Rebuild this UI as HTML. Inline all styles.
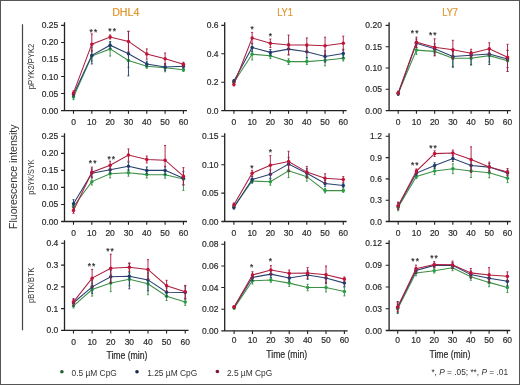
<!DOCTYPE html>
<html><head><meta charset="utf-8"><style>
html,body{margin:0;padding:0;background:#fff;}
body{width:520px;height:385px;overflow:hidden;position:relative;}
svg{position:absolute;left:0;top:0;will-change:transform;}
text{font-family:"Liberation Sans",sans-serif;}
.tk text{font-size:8.5px;fill:#2a2a2a;stroke:#2a2a2a;stroke-width:0.18px;}
.st{font-size:7.6px;fill:#111;stroke:#111;stroke-width:0.35px;letter-spacing:1.1px;}
</style></head><body>
<svg width="520" height="385" viewBox="0 0 520 385">
<rect x="0.5" y="0.5" width="519" height="384" fill="#fff" stroke="#555" stroke-width="1"/>

<g font-size="10" fill="#e0962c" stroke="#e0962c" stroke-width="0.2" text-anchor="middle"><text x="125.75" y="15.5" textLength="27.2" lengthAdjust="spacingAndGlyphs">DHL4</text><text x="285" y="15.5" textLength="15.6" lengthAdjust="spacingAndGlyphs">LY1</text><text x="450.1" y="15.5" textLength="15.8" lengthAdjust="spacingAndGlyphs">LY7</text></g>
<path d="M22.5 24.2V330.2" stroke="#444" stroke-width="1.2"/>
<text transform="translate(16.5 176.7) rotate(-90)" text-anchor="middle" font-size="10.1" fill="#333" textLength="104.5" lengthAdjust="spacingAndGlyphs">Fluorescence intensity</text>
<text transform="translate(34.0 66.45) rotate(-90)" text-anchor="middle" font-size="9.4" fill="#333" textLength="45.4" lengthAdjust="spacingAndGlyphs">pPYK2/PYK2</text>
<text transform="translate(34.0 177.0) rotate(-90)" text-anchor="middle" font-size="9.4" fill="#333" textLength="35.4" lengthAdjust="spacingAndGlyphs">pSYK/SYK</text>
<text transform="translate(34.0 285.25) rotate(-90)" text-anchor="middle" font-size="9.4" fill="#333" textLength="35.4" lengthAdjust="spacingAndGlyphs">pBTK/BTK</text>
<g class="tk">
<path d="M64.50 22.30V110.60M61.10 110.60H187.00" stroke="#222" stroke-width="1.3" fill="none"/>
<text x="58.30" y="113.60" text-anchor="end">0.00</text>
<text x="58.30" y="96.56" text-anchor="end">0.05</text>
<text x="58.30" y="79.52" text-anchor="end">0.10</text>
<text x="58.30" y="62.48" text-anchor="end">0.15</text>
<text x="58.30" y="45.44" text-anchor="end">0.20</text>
<text x="58.30" y="28.40" text-anchor="end">0.25</text>
<text x="73.50" y="124.60" text-anchor="middle">0</text>
<text x="91.82" y="124.60" text-anchor="middle">10</text>
<text x="110.14" y="124.60" text-anchor="middle">20</text>
<text x="128.46" y="124.60" text-anchor="middle">30</text>
<text x="146.78" y="124.60" text-anchor="middle">40</text>
<text x="165.10" y="124.60" text-anchor="middle">50</text>
<text x="183.42" y="124.60" text-anchor="middle">60</text>
<path d="M61.10 93.56H64.50M61.10 76.52H64.50M61.10 59.48H64.50M61.10 42.44H64.50M61.10 25.40H64.50M73.50 110.60V113.80M91.82 110.60V113.80M110.14 110.60V113.80M128.46 110.60V113.80M146.78 110.60V113.80M165.10 110.60V113.80M183.42 110.60V113.80" stroke="#222" stroke-width="1.1" fill="none"/>
<path d="M73.50 94.24V99.69M72.50 94.24h2M72.50 99.69h2M91.82 50.96V61.18M90.82 50.96h2M90.82 61.18h2M110.14 41.76V56.07M109.14 41.76h2M109.14 56.07h2M128.46 53.69V67.32M127.46 53.69h2M127.46 67.32h2M146.78 64.25V68.34M145.78 64.25h2M145.78 68.34h2M165.10 63.57V71.75M164.10 63.57h2M164.10 71.75h2M183.42 68.00V71.41M182.42 68.00h2M182.42 71.41h2" stroke="#3d8f45" stroke-width="0.95" fill="none"/>
<polyline points="73.50,96.97 91.82,56.07 110.14,48.92 128.46,60.50 146.78,66.30 165.10,67.66 183.42,69.70" stroke="#3d8f45" stroke-width="1.05" fill="none"/>
<circle cx="73.50" cy="96.97" r="1.75" fill="#26a043"/>
<circle cx="91.82" cy="56.07" r="1.75" fill="#26a043"/>
<circle cx="110.14" cy="48.92" r="1.75" fill="#26a043"/>
<circle cx="128.46" cy="60.50" r="1.75" fill="#26a043"/>
<circle cx="146.78" cy="66.30" r="1.75" fill="#26a043"/>
<circle cx="165.10" cy="67.66" r="1.75" fill="#26a043"/>
<circle cx="183.42" cy="69.70" r="1.75" fill="#26a043"/>
<path d="M73.50 92.54V96.63M72.50 92.54h2M72.50 96.63h2M91.82 46.87V63.91M90.82 46.87h2M90.82 63.91h2M110.14 41.76V48.57M109.14 41.76h2M109.14 48.57h2M128.46 31.53V75.84M127.46 31.53h2M127.46 75.84h2M146.78 61.18V66.64M145.78 61.18h2M145.78 66.64h2M165.10 63.57V70.39M164.10 63.57h2M164.10 70.39h2M183.42 64.59V68.00M182.42 64.59h2M182.42 68.00h2" stroke="#27406f" stroke-width="0.95" fill="none"/>
<polyline points="73.50,94.58 91.82,55.39 110.14,45.17 128.46,53.69 146.78,63.91 165.10,66.98 183.42,66.30" stroke="#27406f" stroke-width="1.05" fill="none"/>
<circle cx="73.50" cy="94.58" r="1.75" fill="#223a6c"/>
<circle cx="91.82" cy="55.39" r="1.75" fill="#223a6c"/>
<circle cx="110.14" cy="45.17" r="1.75" fill="#223a6c"/>
<circle cx="128.46" cy="53.69" r="1.75" fill="#223a6c"/>
<circle cx="146.78" cy="63.91" r="1.75" fill="#223a6c"/>
<circle cx="165.10" cy="66.98" r="1.75" fill="#223a6c"/>
<circle cx="183.42" cy="66.30" r="1.75" fill="#223a6c"/>
<path d="M73.50 90.83V94.92M72.50 90.83h2M72.50 94.92h2M91.82 33.92V50.96M90.82 33.92h2M90.82 50.96h2M110.14 34.94V39.03M109.14 34.94h2M109.14 39.03h2M128.46 31.19V51.64M127.46 31.19h2M127.46 51.64h2M146.78 48.92V59.14M145.78 48.92h2M145.78 59.14h2M165.10 53.00V64.59M164.10 53.00h2M164.10 64.59h2M183.42 62.21V66.30M182.42 62.21h2M182.42 66.30h2" stroke="#ab1f40" stroke-width="0.95" fill="none"/>
<polyline points="73.50,92.88 91.82,44.14 110.14,36.99 128.46,41.42 146.78,54.03 165.10,58.80 183.42,64.25" stroke="#ab1f40" stroke-width="1.05" fill="none"/>
<circle cx="73.50" cy="92.88" r="1.75" fill="#c41236"/>
<circle cx="91.82" cy="44.14" r="1.75" fill="#c41236"/>
<circle cx="110.14" cy="36.99" r="1.75" fill="#c41236"/>
<circle cx="128.46" cy="41.42" r="1.75" fill="#c41236"/>
<circle cx="146.78" cy="54.03" r="1.75" fill="#c41236"/>
<circle cx="165.10" cy="58.80" r="1.75" fill="#c41236"/>
<circle cx="183.42" cy="64.25" r="1.75" fill="#c41236"/>
<text class="st" x="93.95" y="34.50" text-anchor="middle">**</text>
<text class="st" x="112.65" y="34.00" text-anchor="middle">**</text>
<path d="M224.70 22.30V110.60M221.30 110.60H346.60" stroke="#222" stroke-width="1.3" fill="none"/>
<text x="218.50" y="113.60" text-anchor="end">0.0</text>
<text x="218.50" y="85.20" text-anchor="end">0.2</text>
<text x="218.50" y="56.80" text-anchor="end">0.4</text>
<text x="218.50" y="28.40" text-anchor="end">0.6</text>
<text x="233.90" y="124.60" text-anchor="middle">0</text>
<text x="252.13" y="124.60" text-anchor="middle">10</text>
<text x="270.36" y="124.60" text-anchor="middle">20</text>
<text x="288.59" y="124.60" text-anchor="middle">30</text>
<text x="306.82" y="124.60" text-anchor="middle">40</text>
<text x="325.05" y="124.60" text-anchor="middle">50</text>
<text x="343.28" y="124.60" text-anchor="middle">60</text>
<path d="M221.30 82.20H224.70M221.30 53.80H224.70M221.30 25.40H224.70M233.90 110.60V113.80M252.13 110.60V113.80M270.36 110.60V113.80M288.59 110.60V113.80M306.82 110.60V113.80M325.05 110.60V113.80M343.28 110.60V113.80" stroke="#222" stroke-width="1.1" fill="none"/>
<path d="M233.90 80.78V83.62M232.90 80.78h2M232.90 83.62h2M252.13 48.55V59.91M251.13 48.55h2M251.13 59.91h2M270.36 52.95V58.63M269.36 52.95h2M269.36 58.63h2M288.59 58.77V64.45M287.59 58.77h2M287.59 64.45h2M306.82 58.77V64.45M305.82 58.77h2M305.82 64.45h2M325.05 54.51V65.87M324.05 54.51h2M324.05 65.87h2M343.28 55.36V61.04M342.28 55.36h2M342.28 61.04h2" stroke="#3d8f45" stroke-width="0.95" fill="none"/>
<polyline points="233.90,82.20 252.13,54.23 270.36,55.79 288.59,61.61 306.82,61.61 325.05,60.19 343.28,58.20" stroke="#3d8f45" stroke-width="1.05" fill="none"/>
<circle cx="233.90" cy="82.20" r="1.75" fill="#26a043"/>
<circle cx="252.13" cy="54.23" r="1.75" fill="#26a043"/>
<circle cx="270.36" cy="55.79" r="1.75" fill="#26a043"/>
<circle cx="288.59" cy="61.61" r="1.75" fill="#26a043"/>
<circle cx="306.82" cy="61.61" r="1.75" fill="#26a043"/>
<circle cx="325.05" cy="60.19" r="1.75" fill="#26a043"/>
<circle cx="343.28" cy="58.20" r="1.75" fill="#26a043"/>
<path d="M233.90 79.64V82.48M232.90 79.64h2M232.90 82.48h2M252.13 43.15V51.67M251.13 43.15h2M251.13 51.67h2M270.36 49.54V55.22M269.36 49.54h2M269.36 55.22h2M288.59 43.43V54.79M287.59 43.43h2M287.59 54.79h2M306.82 46.13V57.49M305.82 46.13h2M305.82 57.49h2M325.05 50.82V62.18M324.05 50.82h2M324.05 62.18h2M343.28 49.26V57.78M342.28 49.26h2M342.28 57.78h2" stroke="#27406f" stroke-width="0.95" fill="none"/>
<polyline points="233.90,81.06 252.13,47.41 270.36,52.38 288.59,49.11 306.82,51.81 325.05,56.50 343.28,53.52" stroke="#27406f" stroke-width="1.05" fill="none"/>
<circle cx="233.90" cy="81.06" r="1.75" fill="#223a6c"/>
<circle cx="252.13" cy="47.41" r="1.75" fill="#223a6c"/>
<circle cx="270.36" cy="52.38" r="1.75" fill="#223a6c"/>
<circle cx="288.59" cy="49.11" r="1.75" fill="#223a6c"/>
<circle cx="306.82" cy="51.81" r="1.75" fill="#223a6c"/>
<circle cx="325.05" cy="56.50" r="1.75" fill="#223a6c"/>
<circle cx="343.28" cy="53.52" r="1.75" fill="#223a6c"/>
<path d="M233.90 83.05V85.89M232.90 83.05h2M232.90 85.89h2M252.13 32.36V43.72M251.13 32.36h2M251.13 43.72h2M270.36 39.03V47.55M269.36 39.03h2M269.36 47.55h2M288.59 35.06V54.94M287.59 35.06h2M287.59 54.94h2M306.82 37.90V52.10M305.82 37.90h2M305.82 52.10h2M325.05 37.19V54.23M324.05 37.19h2M324.05 54.23h2M343.28 36.19V50.39M342.28 36.19h2M342.28 50.39h2" stroke="#ab1f40" stroke-width="0.95" fill="none"/>
<polyline points="233.90,84.47 252.13,38.04 270.36,43.29 288.59,45.00 306.82,45.00 325.05,45.71 343.28,43.29" stroke="#ab1f40" stroke-width="1.05" fill="none"/>
<circle cx="233.90" cy="84.47" r="1.75" fill="#c41236"/>
<circle cx="252.13" cy="38.04" r="1.75" fill="#c41236"/>
<circle cx="270.36" cy="43.29" r="1.75" fill="#c41236"/>
<circle cx="288.59" cy="45.00" r="1.75" fill="#c41236"/>
<circle cx="306.82" cy="45.00" r="1.75" fill="#c41236"/>
<circle cx="325.05" cy="45.71" r="1.75" fill="#c41236"/>
<circle cx="343.28" cy="43.29" r="1.75" fill="#c41236"/>
<text class="st" x="252.70" y="31.70" text-anchor="middle">*</text>
<text class="st" x="270.90" y="39.40" text-anchor="middle">*</text>
<path d="M389.10 22.30V110.60M385.70 110.60H510.80" stroke="#222" stroke-width="1.3" fill="none"/>
<text x="381.90" y="113.60" text-anchor="end">0.00</text>
<text x="381.90" y="92.30" text-anchor="end">0.05</text>
<text x="381.90" y="71.00" text-anchor="end">0.10</text>
<text x="381.90" y="49.70" text-anchor="end">0.15</text>
<text x="381.90" y="28.40" text-anchor="end">0.20</text>
<text x="398.20" y="124.60" text-anchor="middle">0</text>
<text x="416.42" y="124.60" text-anchor="middle">10</text>
<text x="434.64" y="124.60" text-anchor="middle">20</text>
<text x="452.86" y="124.60" text-anchor="middle">30</text>
<text x="471.08" y="124.60" text-anchor="middle">40</text>
<text x="489.30" y="124.60" text-anchor="middle">50</text>
<text x="507.52" y="124.60" text-anchor="middle">60</text>
<path d="M385.70 89.30H389.10M385.70 68.00H389.10M385.70 46.70H389.10M385.70 25.40H389.10M398.20 110.60V113.80M416.42 110.60V113.80M434.64 110.60V113.80M452.86 110.60V113.80M471.08 110.60V113.80M489.30 110.60V113.80M507.52 110.60V113.80" stroke="#222" stroke-width="1.1" fill="none"/>
<path d="M398.20 91.86V95.26M397.20 91.86h2M397.20 95.26h2M416.42 45.85V54.37M415.42 45.85h2M415.42 54.37h2M434.64 47.13V55.65M433.64 47.13h2M433.64 55.65h2M452.86 49.38V67.02M451.86 49.38h2M451.86 67.02h2M471.08 51.60V64.81M470.08 51.60h2M470.08 64.81h2M489.30 49.26V62.04M488.30 49.26h2M488.30 62.04h2M507.52 50.11V71.41M506.52 50.11h2M506.52 71.41h2" stroke="#3d8f45" stroke-width="0.95" fill="none"/>
<polyline points="398.20,93.56 416.42,50.11 434.64,51.39 452.86,58.20 471.08,58.20 489.30,55.65 507.52,60.76" stroke="#3d8f45" stroke-width="1.05" fill="none"/>
<circle cx="398.20" cy="93.56" r="1.75" fill="#26a043"/>
<circle cx="416.42" cy="50.11" r="1.75" fill="#26a043"/>
<circle cx="434.64" cy="51.39" r="1.75" fill="#26a043"/>
<circle cx="452.86" cy="58.20" r="1.75" fill="#26a043"/>
<circle cx="471.08" cy="58.20" r="1.75" fill="#26a043"/>
<circle cx="489.30" cy="55.65" r="1.75" fill="#26a043"/>
<circle cx="507.52" cy="60.76" r="1.75" fill="#26a043"/>
<path d="M398.20 91.86V95.26M397.20 91.86h2M397.20 95.26h2M416.42 39.03V47.55M415.42 39.03h2M415.42 47.55h2M434.64 43.72V53.94M433.64 43.72h2M433.64 53.94h2M452.86 51.39V67.02M451.86 51.39h2M451.86 67.02h2M471.08 51.81V64.85M470.08 51.81h2M470.08 64.85h2M489.30 49.68V64.46M488.30 49.68h2M488.30 64.46h2M507.52 50.53V67.57M506.52 50.53h2M506.52 67.57h2" stroke="#27406f" stroke-width="0.95" fill="none"/>
<polyline points="398.20,93.56 416.42,43.29 434.64,48.83 452.86,56.50 471.08,55.22 489.30,53.94 507.52,59.05" stroke="#27406f" stroke-width="1.05" fill="none"/>
<circle cx="398.20" cy="93.56" r="1.75" fill="#223a6c"/>
<circle cx="416.42" cy="43.29" r="1.75" fill="#223a6c"/>
<circle cx="434.64" cy="48.83" r="1.75" fill="#223a6c"/>
<circle cx="452.86" cy="56.50" r="1.75" fill="#223a6c"/>
<circle cx="471.08" cy="55.22" r="1.75" fill="#223a6c"/>
<circle cx="489.30" cy="53.94" r="1.75" fill="#223a6c"/>
<circle cx="507.52" cy="59.05" r="1.75" fill="#223a6c"/>
<path d="M398.20 91.17V94.58M397.20 91.17h2M397.20 94.58h2M416.42 37.12V47.34M415.42 37.12h2M415.42 47.34h2M434.64 38.78V55.82M433.64 38.78h2M433.64 55.82h2M452.86 40.31V59.05M451.86 40.31h2M451.86 59.05h2M471.08 49.26V57.26M470.08 49.26h2M470.08 57.26h2M489.30 42.74V54.92M488.30 42.74h2M488.30 54.92h2M507.52 44.31V71.41M506.52 44.31h2M506.52 71.41h2" stroke="#ab1f40" stroke-width="0.95" fill="none"/>
<polyline points="398.20,92.88 416.42,42.23 434.64,47.30 452.86,49.68 471.08,53.26 489.30,48.83 507.52,57.35" stroke="#ab1f40" stroke-width="1.05" fill="none"/>
<circle cx="398.20" cy="92.88" r="1.75" fill="#c41236"/>
<circle cx="416.42" cy="42.23" r="1.75" fill="#c41236"/>
<circle cx="434.64" cy="47.30" r="1.75" fill="#c41236"/>
<circle cx="452.86" cy="49.68" r="1.75" fill="#c41236"/>
<circle cx="471.08" cy="53.26" r="1.75" fill="#c41236"/>
<circle cx="489.30" cy="48.83" r="1.75" fill="#c41236"/>
<circle cx="507.52" cy="57.35" r="1.75" fill="#c41236"/>
<text class="st" x="415.25" y="36.00" text-anchor="middle">**</text>
<text class="st" x="433.35" y="38.40" text-anchor="middle">**</text>
<path d="M64.50 133.20V221.50M61.10 221.50H187.00" stroke="#222" stroke-width="1.3" fill="none"/>
<text x="58.30" y="224.50" text-anchor="end">0.00</text>
<text x="58.30" y="207.46" text-anchor="end">0.05</text>
<text x="58.30" y="190.42" text-anchor="end">0.10</text>
<text x="58.30" y="173.38" text-anchor="end">0.15</text>
<text x="58.30" y="156.34" text-anchor="end">0.20</text>
<text x="58.30" y="139.30" text-anchor="end">0.25</text>
<text x="73.50" y="235.50" text-anchor="middle">0</text>
<text x="91.82" y="235.50" text-anchor="middle">10</text>
<text x="110.14" y="235.50" text-anchor="middle">20</text>
<text x="128.46" y="235.50" text-anchor="middle">30</text>
<text x="146.78" y="235.50" text-anchor="middle">40</text>
<text x="165.10" y="235.50" text-anchor="middle">50</text>
<text x="183.42" y="235.50" text-anchor="middle">60</text>
<path d="M61.10 204.46H64.50M61.10 187.42H64.50M61.10 170.38H64.50M61.10 153.34H64.50M61.10 136.30H64.50M73.50 221.50V224.70M91.82 221.50V224.70M110.14 221.50V224.70M128.46 221.50V224.70M146.78 221.50V224.70M165.10 221.50V224.70M183.42 221.50V224.70" stroke="#222" stroke-width="1.1" fill="none"/>
<path d="M73.50 203.78V209.23M72.50 203.78h2M72.50 209.23h2M91.82 178.22V185.03M90.82 178.22h2M90.82 185.03h2M110.14 169.70V177.88M109.14 169.70h2M109.14 177.88h2M128.46 169.36V176.17M127.46 169.36h2M127.46 176.17h2M146.78 171.20V178.01M145.78 171.20h2M145.78 178.01h2M165.10 171.40V178.22M164.10 171.40h2M164.10 178.22h2M183.42 175.49V190.49M182.42 175.49h2M182.42 190.49h2" stroke="#3d8f45" stroke-width="0.95" fill="none"/>
<polyline points="73.50,206.50 91.82,181.63 110.14,173.79 128.46,172.77 146.78,174.61 165.10,174.81 183.42,178.90" stroke="#3d8f45" stroke-width="1.05" fill="none"/>
<circle cx="73.50" cy="206.50" r="1.75" fill="#26a043"/>
<circle cx="91.82" cy="181.63" r="1.75" fill="#26a043"/>
<circle cx="110.14" cy="173.79" r="1.75" fill="#26a043"/>
<circle cx="128.46" cy="172.77" r="1.75" fill="#26a043"/>
<circle cx="146.78" cy="174.61" r="1.75" fill="#26a043"/>
<circle cx="165.10" cy="174.81" r="1.75" fill="#26a043"/>
<circle cx="183.42" cy="178.90" r="1.75" fill="#26a043"/>
<path d="M73.50 199.69V207.87M72.50 199.69h2M72.50 207.87h2M91.82 169.02V177.20M90.82 169.02h2M90.82 177.20h2M110.14 166.29V173.11M109.14 166.29h2M109.14 173.11h2M128.46 162.20V170.38M127.46 162.20h2M127.46 170.38h2M146.78 166.97V173.79M145.78 166.97h2M145.78 173.79h2M165.10 166.29V174.47M164.10 166.29h2M164.10 174.47h2M183.42 171.40V185.03M182.42 171.40h2M182.42 185.03h2" stroke="#27406f" stroke-width="0.95" fill="none"/>
<polyline points="73.50,203.78 91.82,173.11 110.14,169.70 128.46,166.29 146.78,170.38 165.10,170.38 183.42,178.22" stroke="#27406f" stroke-width="1.05" fill="none"/>
<circle cx="73.50" cy="203.78" r="1.75" fill="#223a6c"/>
<circle cx="91.82" cy="173.11" r="1.75" fill="#223a6c"/>
<circle cx="110.14" cy="169.70" r="1.75" fill="#223a6c"/>
<circle cx="128.46" cy="166.29" r="1.75" fill="#223a6c"/>
<circle cx="146.78" cy="170.38" r="1.75" fill="#223a6c"/>
<circle cx="165.10" cy="170.38" r="1.75" fill="#223a6c"/>
<circle cx="183.42" cy="178.22" r="1.75" fill="#223a6c"/>
<path d="M73.50 207.87V213.32M72.50 207.87h2M72.50 213.32h2M91.82 167.07V177.30M90.82 167.07h2M90.82 177.30h2M110.14 161.18V169.36M109.14 161.18h2M109.14 169.36h2M128.46 148.91V161.18M127.46 148.91h2M127.46 161.18h2M146.78 156.07V162.88M145.78 156.07h2M145.78 162.88h2M165.10 145.50V166.97M164.10 145.50h2M164.10 166.97h2M183.42 167.65V184.69M182.42 167.65h2M182.42 184.69h2" stroke="#ab1f40" stroke-width="0.95" fill="none"/>
<polyline points="73.50,210.59 91.82,172.19 110.14,165.27 128.46,155.04 146.78,159.47 165.10,160.16 183.42,176.17" stroke="#ab1f40" stroke-width="1.05" fill="none"/>
<circle cx="73.50" cy="210.59" r="1.75" fill="#c41236"/>
<circle cx="91.82" cy="172.19" r="1.75" fill="#c41236"/>
<circle cx="110.14" cy="165.27" r="1.75" fill="#c41236"/>
<circle cx="128.46" cy="155.04" r="1.75" fill="#c41236"/>
<circle cx="146.78" cy="159.47" r="1.75" fill="#c41236"/>
<circle cx="165.10" cy="160.16" r="1.75" fill="#c41236"/>
<circle cx="183.42" cy="176.17" r="1.75" fill="#c41236"/>
<text class="st" x="93.20" y="166.30" text-anchor="middle">**</text>
<text class="st" x="111.80" y="161.90" text-anchor="middle">**</text>
<path d="M224.70 133.20V221.50M221.30 221.50H346.60" stroke="#222" stroke-width="1.3" fill="none"/>
<text x="218.50" y="224.50" text-anchor="end">0.00</text>
<text x="218.50" y="196.10" text-anchor="end">0.05</text>
<text x="218.50" y="167.70" text-anchor="end">0.10</text>
<text x="218.50" y="139.30" text-anchor="end">0.15</text>
<text x="233.90" y="235.50" text-anchor="middle">0</text>
<text x="252.13" y="235.50" text-anchor="middle">10</text>
<text x="270.36" y="235.50" text-anchor="middle">20</text>
<text x="288.59" y="235.50" text-anchor="middle">30</text>
<text x="306.82" y="235.50" text-anchor="middle">40</text>
<text x="325.05" y="235.50" text-anchor="middle">50</text>
<text x="343.28" y="235.50" text-anchor="middle">60</text>
<path d="M221.30 193.10H224.70M221.30 164.70H224.70M221.30 136.30H224.70M233.90 221.50V224.70M252.13 221.50V224.70M270.36 221.50V224.70M288.59 221.50V224.70M306.82 221.50V224.70M325.05 221.50V224.70M343.28 221.50V224.70" stroke="#222" stroke-width="1.1" fill="none"/>
<path d="M233.90 205.03V208.44M232.90 205.03h2M232.90 208.44h2M252.13 178.79V183.33M251.13 178.79h2M251.13 183.33h2M270.36 178.33V185.15M269.36 178.33h2M269.36 185.15h2M288.59 163.96V177.59M287.59 163.96h2M287.59 177.59h2M306.82 172.08V181.17M305.82 172.08h2M305.82 181.17h2M325.05 188.33V192.87M324.05 188.33h2M324.05 192.87h2M343.28 188.90V192.30M342.28 188.90h2M342.28 192.30h2" stroke="#3d8f45" stroke-width="0.95" fill="none"/>
<polyline points="233.90,206.73 252.13,181.06 270.36,181.74 288.59,170.78 306.82,176.63 325.05,190.60 343.28,190.60" stroke="#3d8f45" stroke-width="1.05" fill="none"/>
<circle cx="233.90" cy="206.73" r="1.75" fill="#26a043"/>
<circle cx="252.13" cy="181.06" r="1.75" fill="#26a043"/>
<circle cx="270.36" cy="181.74" r="1.75" fill="#26a043"/>
<circle cx="288.59" cy="170.78" r="1.75" fill="#26a043"/>
<circle cx="306.82" cy="176.63" r="1.75" fill="#26a043"/>
<circle cx="325.05" cy="190.60" r="1.75" fill="#26a043"/>
<circle cx="343.28" cy="190.60" r="1.75" fill="#26a043"/>
<path d="M233.90 205.71V209.12M232.90 205.71h2M232.90 209.12h2M252.13 176.63V182.31M251.13 176.63h2M251.13 182.31h2M270.36 169.81V178.90M269.36 169.81h2M269.36 178.90h2M288.59 157.32V170.95M287.59 157.32h2M287.59 170.95h2M306.82 168.68V177.76M305.82 168.68h2M305.82 177.76h2M325.05 180.60V186.28M324.05 180.60h2M324.05 186.28h2M343.28 183.16V187.70M342.28 183.16h2M342.28 187.70h2" stroke="#27406f" stroke-width="0.95" fill="none"/>
<polyline points="233.90,207.41 252.13,179.47 270.36,174.36 288.59,164.13 306.82,173.22 325.05,183.44 343.28,185.43" stroke="#27406f" stroke-width="1.05" fill="none"/>
<circle cx="233.90" cy="207.41" r="1.75" fill="#223a6c"/>
<circle cx="252.13" cy="179.47" r="1.75" fill="#223a6c"/>
<circle cx="270.36" cy="174.36" r="1.75" fill="#223a6c"/>
<circle cx="288.59" cy="164.13" r="1.75" fill="#223a6c"/>
<circle cx="306.82" cy="173.22" r="1.75" fill="#223a6c"/>
<circle cx="325.05" cy="183.44" r="1.75" fill="#223a6c"/>
<circle cx="343.28" cy="185.43" r="1.75" fill="#223a6c"/>
<path d="M233.90 202.98V206.39M232.90 202.98h2M232.90 206.39h2M252.13 170.38V176.06M251.13 170.38h2M251.13 176.06h2M270.36 155.61V174.92M269.36 155.61h2M269.36 174.92h2M288.59 151.24V171.69M287.59 151.24h2M287.59 171.69h2M306.82 166.40V177.76M305.82 166.40h2M305.82 177.76h2M325.05 173.79V182.88M324.05 173.79h2M324.05 182.88h2M343.28 176.63V182.31M342.28 176.63h2M342.28 182.31h2" stroke="#ab1f40" stroke-width="0.95" fill="none"/>
<polyline points="233.90,204.69 252.13,173.22 270.36,165.27 288.59,161.46 306.82,172.08 325.05,178.33 343.28,179.47" stroke="#ab1f40" stroke-width="1.05" fill="none"/>
<circle cx="233.90" cy="204.69" r="1.75" fill="#c41236"/>
<circle cx="252.13" cy="173.22" r="1.75" fill="#c41236"/>
<circle cx="270.36" cy="165.27" r="1.75" fill="#c41236"/>
<circle cx="288.59" cy="161.46" r="1.75" fill="#c41236"/>
<circle cx="306.82" cy="172.08" r="1.75" fill="#c41236"/>
<circle cx="325.05" cy="178.33" r="1.75" fill="#c41236"/>
<circle cx="343.28" cy="179.47" r="1.75" fill="#c41236"/>
<text class="st" x="252.50" y="170.50" text-anchor="middle">*</text>
<text class="st" x="271.00" y="155.10" text-anchor="middle">*</text>
<path d="M389.10 133.20V221.50M385.70 221.50H510.80" stroke="#222" stroke-width="1.3" fill="none"/>
<text x="381.90" y="224.50" text-anchor="end">0.0</text>
<text x="381.90" y="203.20" text-anchor="end">0.3</text>
<text x="381.90" y="181.90" text-anchor="end">0.6</text>
<text x="381.90" y="160.60" text-anchor="end">0.9</text>
<text x="381.90" y="139.30" text-anchor="end">1.2</text>
<text x="398.20" y="235.50" text-anchor="middle">0</text>
<text x="416.42" y="235.50" text-anchor="middle">10</text>
<text x="434.64" y="235.50" text-anchor="middle">20</text>
<text x="452.86" y="235.50" text-anchor="middle">30</text>
<text x="471.08" y="235.50" text-anchor="middle">40</text>
<text x="489.30" y="235.50" text-anchor="middle">50</text>
<text x="507.52" y="235.50" text-anchor="middle">60</text>
<path d="M385.70 200.20H389.10M385.70 178.90H389.10M385.70 157.60H389.10M385.70 136.30H389.10M398.20 221.50V224.70M416.42 221.50V224.70M434.64 221.50V224.70M452.86 221.50V224.70M471.08 221.50V224.70M489.30 221.50V224.70M507.52 221.50V224.70" stroke="#222" stroke-width="1.1" fill="none"/>
<path d="M398.20 203.75V210.85M397.20 203.75h2M397.20 210.85h2M416.42 174.36V178.62M415.42 174.36h2M415.42 178.62h2M434.64 167.54V174.64M433.64 167.54h2M433.64 174.64h2M452.86 163.71V173.65M451.86 163.71h2M451.86 173.65h2M471.08 164.70V177.48M470.08 164.70h2M470.08 177.48h2M489.30 167.82V177.76M488.30 167.82h2M488.30 177.76h2M507.52 173.79V182.59M506.52 173.79h2M506.52 182.59h2" stroke="#3d8f45" stroke-width="0.95" fill="none"/>
<polyline points="398.20,207.30 416.42,176.49 434.64,171.09 452.86,168.68 471.08,171.09 489.30,172.79 507.52,178.19" stroke="#3d8f45" stroke-width="1.05" fill="none"/>
<circle cx="398.20" cy="207.30" r="1.75" fill="#26a043"/>
<circle cx="416.42" cy="176.49" r="1.75" fill="#26a043"/>
<circle cx="434.64" cy="171.09" r="1.75" fill="#26a043"/>
<circle cx="452.86" cy="168.68" r="1.75" fill="#26a043"/>
<circle cx="471.08" cy="171.09" r="1.75" fill="#26a043"/>
<circle cx="489.30" cy="172.79" r="1.75" fill="#26a043"/>
<circle cx="507.52" cy="178.19" r="1.75" fill="#26a043"/>
<path d="M398.20 202.33V209.43M397.20 202.33h2M397.20 209.43h2M416.42 170.95V175.21M415.42 170.95h2M415.42 175.21h2M434.64 162.75V168.43M433.64 162.75h2M433.64 168.43h2M452.86 155.75V161.43M451.86 155.75h2M451.86 161.43h2M471.08 159.73V171.09M470.08 159.73h2M470.08 171.09h2M489.30 163.56V170.66M488.30 163.56h2M488.30 170.66h2M507.52 170.24V175.92M506.52 170.24h2M506.52 175.92h2" stroke="#27406f" stroke-width="0.95" fill="none"/>
<polyline points="398.20,205.88 416.42,173.08 434.64,165.59 452.86,158.59 471.08,165.41 489.30,167.11 507.52,173.08" stroke="#27406f" stroke-width="1.05" fill="none"/>
<circle cx="398.20" cy="205.88" r="1.75" fill="#223a6c"/>
<circle cx="416.42" cy="173.08" r="1.75" fill="#223a6c"/>
<circle cx="434.64" cy="165.59" r="1.75" fill="#223a6c"/>
<circle cx="452.86" cy="158.59" r="1.75" fill="#223a6c"/>
<circle cx="471.08" cy="165.41" r="1.75" fill="#223a6c"/>
<circle cx="489.30" cy="167.11" r="1.75" fill="#223a6c"/>
<circle cx="507.52" cy="173.08" r="1.75" fill="#223a6c"/>
<path d="M398.20 202.19V209.29M397.20 202.19h2M397.20 209.29h2M416.42 168.96V173.22M415.42 168.96h2M415.42 173.22h2M434.64 150.78V156.46M433.64 150.78h2M433.64 156.46h2M452.86 150.07V155.75M451.86 150.07h2M451.86 155.75h2M471.08 146.81V172.37M470.08 146.81h2M470.08 172.37h2M489.30 162.14V172.08M488.30 162.14h2M488.30 172.08h2M507.52 168.53V175.63M506.52 168.53h2M506.52 175.63h2" stroke="#ab1f40" stroke-width="0.95" fill="none"/>
<polyline points="398.20,205.74 416.42,171.09 434.64,153.62 452.86,152.91 471.08,159.59 489.30,167.11 507.52,172.08" stroke="#ab1f40" stroke-width="1.05" fill="none"/>
<circle cx="398.20" cy="205.74" r="1.75" fill="#c41236"/>
<circle cx="416.42" cy="171.09" r="1.75" fill="#c41236"/>
<circle cx="434.64" cy="153.62" r="1.75" fill="#c41236"/>
<circle cx="452.86" cy="152.91" r="1.75" fill="#c41236"/>
<circle cx="471.08" cy="159.59" r="1.75" fill="#c41236"/>
<circle cx="489.30" cy="167.11" r="1.75" fill="#c41236"/>
<circle cx="507.52" cy="172.08" r="1.75" fill="#c41236"/>
<text class="st" x="415.35" y="168.00" text-anchor="middle">**</text>
<text class="st" x="433.55" y="150.50" text-anchor="middle">**</text>
<path d="M64.50 240.30V330.40M61.10 330.40H188.60" stroke="#222" stroke-width="1.3" fill="none"/>
<text x="58.30" y="333.40" text-anchor="end" font-size="8.9">0.0</text>
<text x="58.30" y="311.62" text-anchor="end" font-size="8.9">0.1</text>
<text x="58.30" y="289.85" text-anchor="end" font-size="8.9">0.2</text>
<text x="58.30" y="268.08" text-anchor="end" font-size="8.9">0.3</text>
<text x="58.30" y="246.30" text-anchor="end" font-size="8.9">0.4</text>
<text x="73.50" y="344.90" text-anchor="middle" font-size="8.9">0</text>
<text x="92.12" y="344.90" text-anchor="middle" font-size="8.9">10</text>
<text x="110.74" y="344.90" text-anchor="middle" font-size="8.9">20</text>
<text x="129.36" y="344.90" text-anchor="middle" font-size="8.9">30</text>
<text x="147.98" y="344.90" text-anchor="middle" font-size="8.9">40</text>
<text x="166.60" y="344.90" text-anchor="middle" font-size="8.9">50</text>
<text x="185.22" y="344.90" text-anchor="middle" font-size="8.9">60</text>
<path d="M61.10 308.62H64.50M61.10 286.85H64.50M61.10 265.08H64.50M61.10 243.30H64.50M73.50 330.40V333.60M92.12 330.40V333.60M110.74 330.40V333.60M129.36 330.40V333.60M147.98 330.40V333.60M166.60 330.40V333.60M185.22 330.40V333.60" stroke="#222" stroke-width="1.1" fill="none"/>
<path d="M73.50 303.62V307.97M72.50 303.62h2M72.50 307.97h2M92.12 283.04V296.10M91.12 283.04h2M91.12 296.10h2M110.74 274.22V291.64M109.74 274.22h2M109.74 291.64h2M129.36 272.70V285.76M128.36 272.70h2M128.36 285.76h2M147.98 272.91V294.69M146.98 272.91h2M146.98 294.69h2M166.60 291.86V300.57M165.60 291.86h2M165.60 300.57h2M185.22 298.83V305.36M184.22 298.83h2M184.22 305.36h2" stroke="#3d8f45" stroke-width="0.95" fill="none"/>
<polyline points="73.50,305.79 92.12,289.57 110.74,282.93 129.36,279.23 147.98,283.80 166.60,296.21 185.22,302.09" stroke="#3d8f45" stroke-width="1.05" fill="none"/>
<circle cx="73.50" cy="305.79" r="1.75" fill="#26a043"/>
<circle cx="92.12" cy="289.57" r="1.75" fill="#26a043"/>
<circle cx="110.74" cy="282.93" r="1.75" fill="#26a043"/>
<circle cx="129.36" cy="279.23" r="1.75" fill="#26a043"/>
<circle cx="147.98" cy="283.80" r="1.75" fill="#26a043"/>
<circle cx="166.60" cy="296.21" r="1.75" fill="#26a043"/>
<circle cx="185.22" cy="302.09" r="1.75" fill="#26a043"/>
<path d="M73.50 299.48V306.01M72.50 299.48h2M72.50 306.01h2M92.12 280.32V293.38M91.12 280.32h2M91.12 293.38h2M110.74 270.30V283.37M109.74 270.30h2M109.74 283.37h2M129.36 263.55V288.81M128.36 263.55h2M128.36 288.81h2M147.98 268.99V290.77M146.98 268.99h2M146.98 290.77h2M166.60 287.94V296.65M165.60 287.94h2M165.60 296.65h2M185.22 285.98V299.04M184.22 285.98h2M184.22 299.04h2" stroke="#27406f" stroke-width="0.95" fill="none"/>
<polyline points="73.50,302.75 92.12,286.85 110.74,276.83 129.36,276.18 147.98,279.88 166.60,292.29 185.22,292.51" stroke="#27406f" stroke-width="1.05" fill="none"/>
<circle cx="73.50" cy="302.75" r="1.75" fill="#223a6c"/>
<circle cx="92.12" cy="286.85" r="1.75" fill="#223a6c"/>
<circle cx="110.74" cy="276.83" r="1.75" fill="#223a6c"/>
<circle cx="129.36" cy="276.18" r="1.75" fill="#223a6c"/>
<circle cx="147.98" cy="279.88" r="1.75" fill="#223a6c"/>
<circle cx="166.60" cy="292.29" r="1.75" fill="#223a6c"/>
<circle cx="185.22" cy="292.51" r="1.75" fill="#223a6c"/>
<path d="M73.50 298.61V305.14M72.50 298.61h2M72.50 305.14h2M92.12 269.43V286.85M91.12 269.43h2M91.12 286.85h2M110.74 254.19V282.50M109.74 254.19h2M109.74 282.50h2M129.36 262.90V271.61M128.36 262.90h2M128.36 271.61h2M147.98 259.63V279.23M146.98 259.63h2M146.98 279.23h2M166.60 280.32V291.20M165.60 280.32h2M165.60 291.20h2M185.22 285.33V298.39M184.22 285.33h2M184.22 298.39h2" stroke="#ab1f40" stroke-width="0.95" fill="none"/>
<polyline points="73.50,301.87 92.12,278.14 110.74,268.34 129.36,267.25 147.98,269.43 166.60,285.76 185.22,291.86" stroke="#ab1f40" stroke-width="1.05" fill="none"/>
<circle cx="73.50" cy="301.87" r="1.75" fill="#c41236"/>
<circle cx="92.12" cy="278.14" r="1.75" fill="#c41236"/>
<circle cx="110.74" cy="268.34" r="1.75" fill="#c41236"/>
<circle cx="129.36" cy="267.25" r="1.75" fill="#c41236"/>
<circle cx="147.98" cy="269.43" r="1.75" fill="#c41236"/>
<circle cx="166.60" cy="285.76" r="1.75" fill="#c41236"/>
<circle cx="185.22" cy="291.86" r="1.75" fill="#c41236"/>
<text class="st" x="92.05" y="269.00" text-anchor="middle">**</text>
<text class="st" x="110.55" y="253.70" text-anchor="middle">**</text>
<path d="M224.70 241.20V330.80M221.30 330.80H347.60" stroke="#222" stroke-width="1.3" fill="none"/>
<text x="218.50" y="333.80" text-anchor="end">0.00</text>
<text x="218.50" y="312.18" text-anchor="end">0.02</text>
<text x="218.50" y="290.55" text-anchor="end">0.04</text>
<text x="218.50" y="268.93" text-anchor="end">0.06</text>
<text x="218.50" y="247.30" text-anchor="end">0.08</text>
<text x="234.10" y="342.50" text-anchor="middle">0</text>
<text x="252.48" y="342.50" text-anchor="middle">10</text>
<text x="270.86" y="342.50" text-anchor="middle">20</text>
<text x="289.24" y="342.50" text-anchor="middle">30</text>
<text x="307.62" y="342.50" text-anchor="middle">40</text>
<text x="326.00" y="342.50" text-anchor="middle">50</text>
<text x="344.38" y="342.50" text-anchor="middle">60</text>
<path d="M221.30 309.18H224.70M221.30 287.55H224.70M221.30 265.93H224.70M221.30 244.30H224.70M234.10 330.80V334.00M252.48 330.80V334.00M270.86 330.80V334.00M289.24 330.80V334.00M307.62 330.80V334.00M326.00 330.80V334.00M344.38 330.80V334.00" stroke="#222" stroke-width="1.1" fill="none"/>
<path d="M234.10 307.01V309.18M233.10 307.01h2M233.10 309.18h2M252.48 277.49V283.98M251.48 277.49h2M251.48 283.98h2M270.86 277.93V282.25M269.86 277.93h2M269.86 282.25h2M289.24 279.87V286.36M288.24 279.87h2M288.24 286.36h2M307.62 284.31V290.79M306.62 284.31h2M306.62 290.79h2M326.00 283.23V291.88M325.00 283.23h2M325.00 291.88h2M344.38 287.23V295.88M343.38 287.23h2M343.38 295.88h2" stroke="#3d8f45" stroke-width="0.95" fill="none"/>
<polyline points="234.10,308.09 252.48,280.74 270.86,280.09 289.24,283.12 307.62,287.55 326.00,287.55 344.38,291.55" stroke="#3d8f45" stroke-width="1.05" fill="none"/>
<circle cx="234.10" cy="308.09" r="1.75" fill="#26a043"/>
<circle cx="252.48" cy="280.74" r="1.75" fill="#26a043"/>
<circle cx="270.86" cy="280.09" r="1.75" fill="#26a043"/>
<circle cx="289.24" cy="283.12" r="1.75" fill="#26a043"/>
<circle cx="307.62" cy="287.55" r="1.75" fill="#26a043"/>
<circle cx="326.00" cy="287.55" r="1.75" fill="#26a043"/>
<circle cx="344.38" cy="291.55" r="1.75" fill="#26a043"/>
<path d="M234.10 305.93V308.09M233.10 305.93h2M233.10 308.09h2M252.48 274.14V280.63M251.48 274.14h2M251.48 280.63h2M270.86 270.90V277.39M269.86 270.90h2M269.86 277.39h2M289.24 274.79V281.28M288.24 274.79h2M288.24 281.28h2M307.62 270.68V279.33M306.62 270.68h2M306.62 279.33h2M326.00 273.71V282.36M325.00 273.71h2M325.00 282.36h2M344.38 279.87V286.36M343.38 279.87h2M343.38 286.36h2" stroke="#27406f" stroke-width="0.95" fill="none"/>
<polyline points="234.10,307.01 252.48,277.39 270.86,274.14 289.24,278.04 307.62,275.01 326.00,278.04 344.38,283.12" stroke="#27406f" stroke-width="1.05" fill="none"/>
<circle cx="234.10" cy="307.01" r="1.75" fill="#223a6c"/>
<circle cx="252.48" cy="277.39" r="1.75" fill="#223a6c"/>
<circle cx="270.86" cy="274.14" r="1.75" fill="#223a6c"/>
<circle cx="289.24" cy="278.04" r="1.75" fill="#223a6c"/>
<circle cx="307.62" cy="275.01" r="1.75" fill="#223a6c"/>
<circle cx="326.00" cy="278.04" r="1.75" fill="#223a6c"/>
<circle cx="344.38" cy="283.12" r="1.75" fill="#223a6c"/>
<path d="M234.10 306.04V308.20M233.10 306.04h2M233.10 308.20h2M252.48 271.76V278.25M251.48 271.76h2M251.48 278.25h2M270.86 265.60V274.25M269.86 265.60h2M269.86 274.25h2M289.24 270.03V276.52M288.24 270.03h2M288.24 276.52h2M307.62 267.55V278.36M306.62 267.55h2M306.62 278.36h2M326.00 266.03V283.33M325.00 266.03h2M325.00 283.33h2M344.38 276.95V281.28M343.38 276.95h2M343.38 281.28h2" stroke="#ab1f40" stroke-width="0.95" fill="none"/>
<polyline points="234.10,307.12 252.48,275.01 270.86,269.93 289.24,273.28 307.62,272.95 326.00,274.68 344.38,279.12" stroke="#ab1f40" stroke-width="1.05" fill="none"/>
<circle cx="234.10" cy="307.12" r="1.75" fill="#c41236"/>
<circle cx="252.48" cy="275.01" r="1.75" fill="#c41236"/>
<circle cx="270.86" cy="269.93" r="1.75" fill="#c41236"/>
<circle cx="289.24" cy="273.28" r="1.75" fill="#c41236"/>
<circle cx="307.62" cy="272.95" r="1.75" fill="#c41236"/>
<circle cx="326.00" cy="274.68" r="1.75" fill="#c41236"/>
<circle cx="344.38" cy="279.12" r="1.75" fill="#c41236"/>
<text class="st" x="252.30" y="269.70" text-anchor="middle">*</text>
<text class="st" x="271.00" y="263.90" text-anchor="middle">*</text>
<path d="M389.10 240.30V330.50M385.70 330.50H510.30" stroke="#222" stroke-width="1.3" fill="none"/>
<text x="381.90" y="333.50" text-anchor="end">0.00</text>
<text x="381.90" y="311.73" text-anchor="end">0.03</text>
<text x="381.90" y="289.95" text-anchor="end">0.06</text>
<text x="381.90" y="268.18" text-anchor="end">0.09</text>
<text x="381.90" y="246.40" text-anchor="end">0.12</text>
<text x="397.70" y="342.60" text-anchor="middle">0</text>
<text x="415.98" y="342.60" text-anchor="middle">10</text>
<text x="434.26" y="342.60" text-anchor="middle">20</text>
<text x="452.54" y="342.60" text-anchor="middle">30</text>
<text x="470.82" y="342.60" text-anchor="middle">40</text>
<text x="489.10" y="342.60" text-anchor="middle">50</text>
<text x="507.38" y="342.60" text-anchor="middle">60</text>
<path d="M385.70 308.73H389.10M385.70 286.95H389.10M385.70 265.18H389.10M385.70 243.40H389.10M397.70 330.50V333.70M415.98 330.50V333.70M434.26 330.50V333.70M452.54 330.50V333.70M470.82 330.50V333.70M489.10 330.50V333.70M507.38 330.50V333.70" stroke="#222" stroke-width="1.1" fill="none"/>
<path d="M397.70 304.37V313.08M396.70 304.37h2M396.70 313.08h2M415.98 269.97V275.77M414.98 269.97h2M414.98 275.77h2M434.26 268.66V273.01M433.26 268.66h2M433.26 273.01h2M452.54 264.88V270.69M451.54 264.88h2M451.54 270.69h2M470.82 273.01V280.27M469.82 273.01h2M469.82 280.27h2M489.10 278.02V286.73M488.10 278.02h2M488.10 286.73h2M507.38 282.38V292.54M506.38 282.38h2M506.38 292.54h2" stroke="#3d8f45" stroke-width="0.95" fill="none"/>
<polyline points="397.70,308.73 415.98,272.87 434.26,270.84 452.54,267.79 470.82,276.64 489.10,282.38 507.38,287.46" stroke="#3d8f45" stroke-width="1.05" fill="none"/>
<circle cx="397.70" cy="308.73" r="1.75" fill="#26a043"/>
<circle cx="415.98" cy="272.87" r="1.75" fill="#26a043"/>
<circle cx="434.26" cy="270.84" r="1.75" fill="#26a043"/>
<circle cx="452.54" cy="267.79" r="1.75" fill="#26a043"/>
<circle cx="470.82" cy="276.64" r="1.75" fill="#26a043"/>
<circle cx="489.10" cy="282.38" r="1.75" fill="#26a043"/>
<circle cx="507.38" cy="287.46" r="1.75" fill="#26a043"/>
<path d="M397.70 301.47V313.08M396.70 301.47h2M396.70 313.08h2M415.98 267.64V273.45M414.98 267.64h2M414.98 273.45h2M434.26 263.22V267.57M433.26 263.22h2M433.26 267.57h2M452.54 262.49V268.30M451.54 262.49h2M451.54 268.30h2M470.82 270.98V278.24M469.82 270.98h2M469.82 278.24h2M489.10 273.88V282.60M488.10 273.88h2M488.10 282.60h2M507.38 276.93V285.64M506.38 276.93h2M506.38 285.64h2" stroke="#27406f" stroke-width="0.95" fill="none"/>
<polyline points="397.70,307.27 415.98,270.55 434.26,265.39 452.54,265.39 470.82,274.61 489.10,278.24 507.38,281.29" stroke="#27406f" stroke-width="1.05" fill="none"/>
<circle cx="397.70" cy="307.27" r="1.75" fill="#223a6c"/>
<circle cx="415.98" cy="270.55" r="1.75" fill="#223a6c"/>
<circle cx="434.26" cy="265.39" r="1.75" fill="#223a6c"/>
<circle cx="452.54" cy="265.39" r="1.75" fill="#223a6c"/>
<circle cx="470.82" cy="274.61" r="1.75" fill="#223a6c"/>
<circle cx="489.10" cy="278.24" r="1.75" fill="#223a6c"/>
<circle cx="507.38" cy="281.29" r="1.75" fill="#223a6c"/>
<path d="M397.70 302.70V311.41M396.70 302.70h2M396.70 311.41h2M415.98 265.18V272.43M414.98 265.18h2M414.98 272.43h2M434.26 261.55V267.35M433.26 261.55h2M433.26 267.35h2M452.54 261.11V268.37M451.54 261.11h2M451.54 268.37h2M470.82 268.51V277.22M469.82 268.51h2M469.82 277.22h2M489.10 267.64V282.16M488.10 267.64h2M488.10 282.16h2M507.38 271.85V280.56M506.38 271.85h2M506.38 280.56h2" stroke="#ab1f40" stroke-width="0.95" fill="none"/>
<polyline points="397.70,307.06 415.98,268.80 434.26,264.45 452.54,264.74 470.82,272.87 489.10,274.90 507.38,276.21" stroke="#ab1f40" stroke-width="1.05" fill="none"/>
<circle cx="397.70" cy="307.06" r="1.75" fill="#c41236"/>
<circle cx="415.98" cy="268.80" r="1.75" fill="#c41236"/>
<circle cx="434.26" cy="264.45" r="1.75" fill="#c41236"/>
<circle cx="452.54" cy="264.74" r="1.75" fill="#c41236"/>
<circle cx="470.82" cy="272.87" r="1.75" fill="#c41236"/>
<circle cx="489.10" cy="274.90" r="1.75" fill="#c41236"/>
<circle cx="507.38" cy="276.21" r="1.75" fill="#c41236"/>
<text class="st" x="415.75" y="263.70" text-anchor="middle">**</text>
<text class="st" x="434.55" y="260.60" text-anchor="middle">**</text>
</g>
<text transform="translate(126.9 359.0) scale(0.87 1)" text-anchor="middle" font-size="10" fill="#2a2a2a" stroke="#2a2a2a" stroke-width="0.2" letter-spacing="-0.05">Time (min)</text>
<text transform="translate(286.7 358.1) scale(0.87 1)" text-anchor="middle" font-size="10" fill="#2a2a2a" stroke="#2a2a2a" stroke-width="0.2" letter-spacing="-0.05">Time (min)</text>
<text transform="translate(449.9 357.6) scale(0.87 1)" text-anchor="middle" font-size="10" fill="#2a2a2a" stroke="#2a2a2a" stroke-width="0.2" letter-spacing="-0.05">Time (min)</text>
<circle cx="61.9" cy="371.7" r="1.8" fill="#22602c"/><circle cx="137" cy="371.7" r="1.8" fill="#162a48"/><circle cx="217.4" cy="371.5" r="1.8" fill="#7e1434"/>
<g font-size="8.4" fill="#333"><text x="71.5" y="375.5">0.5 µM CpG</text><text x="147.2" y="375.5">1.25 µM CpG</text><text x="226.9" y="375.5">2.5 µM CpG</text></g>
<text x="508" y="375" text-anchor="end" font-size="8.3" fill="#333">*, <tspan font-style="italic">P</tspan> = .05; **, <tspan font-style="italic">P</tspan> = .01</text>
</svg></body></html>
